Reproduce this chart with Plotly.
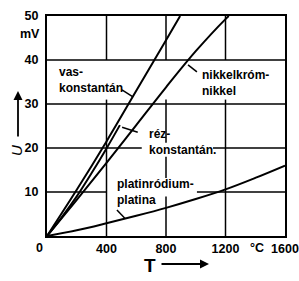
import plotly.graph_objects as go

# ---- data ----
T_vas = [0, 200, 400, 600, 800, 895]
U_vas = [0, 10.5, 21.5, 33.0, 44.5, 50.0]

T_rez = [0, 100, 200, 300, 400, 490]
U_rez = [0, 4.3, 9.0, 14.3, 19.9, 25.2]

T_nik = [0, 200, 400, 600, 800, 1000, 1200, 1222]
U_nik = [0, 8.2, 16.6, 25.2, 33.8, 42.0, 49.3, 50.0]

T_pt = [0, 200, 400, 600, 800, 1000, 1200, 1400, 1600]
U_pt = [0, 1.3, 2.9, 4.6, 6.4, 8.4, 10.6, 13.2, 16.0]

x_ticks = [400, 800, 1200, 1600]
x_ticktext = ["400", "800", "1200", "1600"]
y_ticks = [10, 20, 30, 40, 50]
y_ticktext = ["10", "20", "30", "40", "50"]

FONT = "Liberation Sans, Arial, sans-serif"
LW = 2

fig = go.Figure()
for xs, ys in [(T_vas, U_vas), (T_rez, U_rez), (T_nik, U_nik), (T_pt, U_pt)]:
    fig.add_trace(go.Scatter(x=xs, y=ys, mode="lines", line=dict(color="black", width=LW),
                             line_shape="spline", showlegend=False, hoverinfo="skip"))

label_font = dict(family=FONT, size=12, color="black", weight="bold")
annotations = [
    dict(x=67, y=35.4, text="vas-<br>konstantán", xanchor="left", yanchor="middle", align="left"),
    dict(x=1029, y=34.8, text="nikkelkróm-<br>nikkel", xanchor="left", yanchor="middle", align="left"),
    dict(x=672, y=21.3, text="réz-<br>konstantán.", xanchor="left", yanchor="middle", align="left"),
    dict(x=457, y=10.0, text="platinródium-<br>platina", xanchor="left", yanchor="middle", align="left"),
]
for a in annotations:
    a.update(xref="x", yref="y", showarrow=False, font=label_font)

tick_font = dict(family=FONT, size=12.5, color="black", weight="bold")
annotations += [
    dict(xref="paper", x=0, yref="y", y=50, text="mV", showarrow=False, xanchor="right",
         yanchor="middle", xshift=-5, yshift=-18, font=tick_font),
    dict(xref="x", x=0, yref="y", y=0, text="0", showarrow=False, xanchor="center",
         yanchor="top", xshift=-8, yshift=-3, font=tick_font),
    dict(xref="x", x=1412, yref="y", y=0, text="°C", showarrow=False, xanchor="center",
         yanchor="top", yshift=-3, font=tick_font),
    # axis titles
    dict(xref="paper", x=(150 - 47) / 238, yref="paper", y=-(265 - 236) / 220, text="<b>T</b>",
         showarrow=False, xanchor="center", yanchor="middle",
         font=dict(family=FONT, size=19, color="black")),
    dict(xref="paper", x=(209 - 47) / 238, yref="paper", y=-(264 - 236) / 220,
         axref="pixel", ayref="pixel", ax=-49, ay=0, text="", showarrow=True,
         arrowhead=2, arrowsize=1, arrowwidth=1.8, arrowcolor="black"),
    dict(xref="paper", x=(16 - 47) / 238, yref="paper", y=(236 - 150) / 220, text="<i>U</i>",
         textangle=-90, showarrow=False, xanchor="center", yanchor="middle",
         font=dict(family=FONT, size=15, color="black")),
    dict(xref="paper", x=(18 - 47) / 238, yref="paper", y=(236 - 91) / 220,
         axref="pixel", ayref="pixel", ax=0, ay=47, text="", showarrow=True,
         arrowhead=2, arrowsize=1, arrowwidth=1.8, arrowcolor="black"),
]

# grid segments (broken where the labels sit), drawn below the curves
grid = dict(color="black", width=1.5)
vsegs = [  # (T, U_from, U_to)
    (400, 40, 50), (400, 0, 31.0),
    (800, 40, 50), (800, 21.2, 31.0), (800, 13.2, 18.0), (800, 0, 9.0),
    (1200, 40, 50), (1200, 0, 31.0),
]
hsegs = [  # (U, T_from, T_to)
    (40, 0, 1600), (30, 0, 1600),
    (20, 0, 637), (20, 1116, 1600),
    (10, 0, 400), (10, 1008, 1600),
]
shapes = []
for t, u0, u1 in vsegs:
    shapes.append(dict(type="line", xref="x", yref="y", x0=t, x1=t, y0=u0, y1=u1,
                       layer="below", line=grid))
for u, t0, t1 in hsegs:
    shapes.append(dict(type="line", xref="x", yref="y", x0=t0, x1=t1, y0=u, y1=u,
                       layer="below", line=grid))

# pointer lines from labels to curves
pl = dict(color="black", width=1.5)
shapes += [
    dict(type="line", xref="x", yref="y", x0=504, y0=33.2, x1=575, y1=31.7, line=pl),
    dict(type="line", xref="x", yref="y", x0=1008, y0=37.3, x1=948, y1=38.9, line=pl),
    dict(type="line", xref="x", yref="y", x0=610, y0=23.6, x1=505, y1=24.7, line=pl),
    dict(type="line", xref="x", yref="y", x0=470, y0=5.9, x1=525, y1=4.0, line=pl),
]

fig.update_layout(
    width=299, height=281,
    margin=dict(l=47, r=14, t=16, b=45, autoexpand=False),
    paper_bgcolor="white", plot_bgcolor="rgba(0,0,0,0)",
    annotations=annotations, shapes=shapes,
    font=dict(family=FONT, color="black"),
)
fig.update_xaxes(range=[0, 1600], tickvals=x_ticks, ticktext=x_ticktext, tickfont=tick_font,
                 showgrid=False, zeroline=False, ticklabeloverflow="allow", automargin=False,
                 showline=True, linecolor="black", linewidth=2, mirror=True, ticks="",
                 ticklabelstandoff=0)
fig.update_yaxes(range=[0, 50], tickvals=y_ticks, ticktext=y_ticktext, tickfont=tick_font,
                 showgrid=False, zeroline=False, automargin=False,
                 showline=True, linecolor="black", linewidth=2, mirror=True, ticks="",
                 ticklabelstandoff=4)

fig.write_html("out.html")
